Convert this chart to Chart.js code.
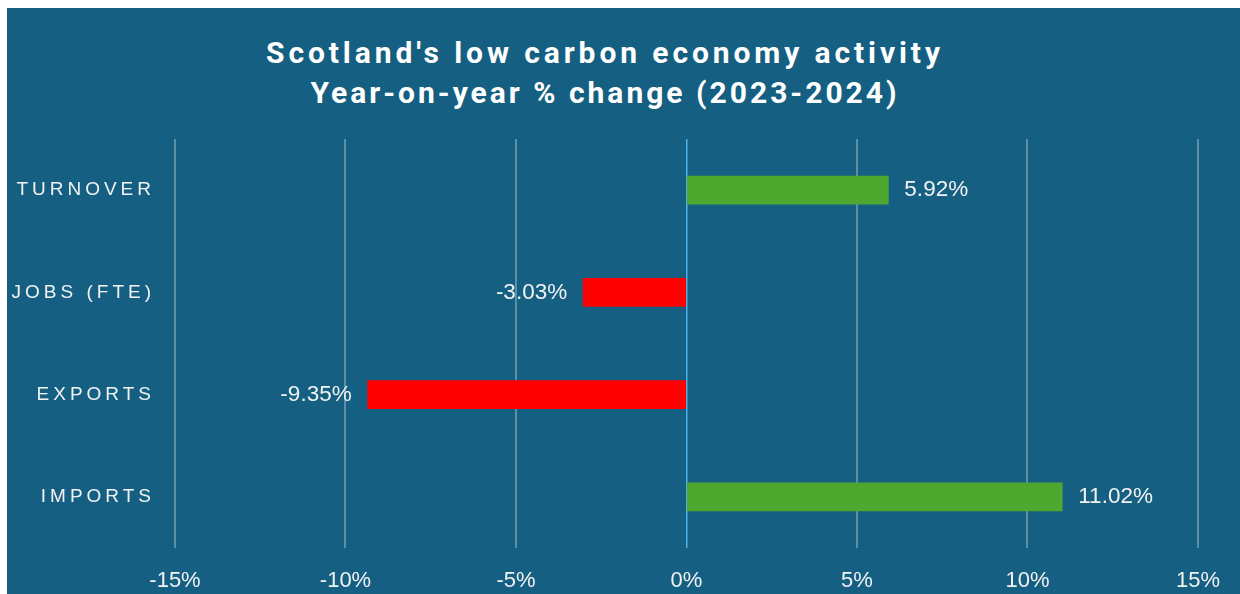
<!DOCTYPE html>
<html>
<head>
<meta charset="utf-8">
<script src="https://cdn.jsdelivr.net/npm/chart.js@4.4.1/dist/chart.umd.min.js"></script>
<style>
  body { margin: 0; background: #ffffff; }
  #panel { position: absolute; left: 7px; top: 8px; width: 1233px; height: 586px; background: #156082; }
  #title {
    position: absolute; left: 2px; top: 33px; width: 1206px;
    text-align: center; color: #ffffff;
    font: bold 30px Roboto, sans-serif; letter-spacing: 3.9px; line-height: 40px;
  }
  #title .sub { letter-spacing: 3px; }
  #chartBox { position: absolute; left: 7px; top: 8px; width: 1233px; height: 586px; }
</style>
</head>
<body>
<div id="panel"></div>
<div id="title">Scotland's low carbon economy activity<br><span class="sub">Year-on-year % change (2023-2024)</span></div>
<div id="chartBox"><canvas id="lowCarbonChart"></canvas></div>
<script>
// Data
const categories = ['TURNOVER', 'JOBS (FTE)', 'EXPORTS', 'IMPORTS'];
const changes = [5.92, -3.03, -9.35, 11.02];
const xTicks = [-15, -10, -5, 0, 5, 10, 15];

const GREEN = '#4EA72E';
const RED = '#FF0000';

// value labels next to each bar, then switch on letter spacing for the category labels
const valueLabels = {
  id: 'valueLabels',
  beforeDraw(chart) {
    chart.ctx.letterSpacing = '0px';
  },
  afterDatasetsDraw(chart) {
    const ctx = chart.ctx;
    const meta = chart.getDatasetMeta(0);
    ctx.save();
    ctx.font = '22.5px "Liberation Sans", Arial, sans-serif';
    ctx.fillStyle = '#F2F2F2';
    ctx.textBaseline = 'middle';
    meta.data.forEach((bar, i) => {
      const v = changes[i];
      const txt = v.toFixed(2) + '%';
      if (v >= 0) {
        ctx.textAlign = 'left';
        ctx.fillText(txt, bar.x + 16, bar.y);
      } else {
        ctx.textAlign = 'right';
        ctx.fillText(txt, bar.x - 16, bar.y);
      }
    });
    ctx.restore();
    ctx.letterSpacing = '4px';
  },
  afterDraw(chart) {
    chart.ctx.letterSpacing = '0px';
  }
};

document.addEventListener('DOMContentLoaded', function () {
  const ctx = document.getElementById('lowCarbonChart').getContext('2d');

  new Chart(ctx, {
    type: 'bar',
    data: {
      labels: categories,
      datasets: [{
        data: changes,
        backgroundColor: changes.map(v => v >= 0 ? GREEN : RED),
        borderWidth: 0,
        barThickness: 28
      }]
    },
    options: {
      indexAxis: 'y',
      responsive: true,
      maintainAspectRatio: false,
      animation: false,
      layout: { padding: { top: 131, right: 42, bottom: 0, left: 0 } },
      plugins: {
        legend: { display: false },
        tooltip: { enabled: false }
      },
      scales: {
        x: {
          min: xTicks[0],
          max: xTicks[xTicks.length - 1],
          afterBuildTicks: (scale) => { scale.ticks = xTicks.map(v => ({ value: v })); },
          grid: {
            drawTicks: false,
            color: (c) => c.tick && c.tick.value === 0 ? '#4DB3E6' : 'rgba(255,255,255,0.3)',
            lineWidth: (c) => c.tick && c.tick.value === 0 ? 1.5 : 2
          },
          border: { display: false },
          ticks: {
            padding: 20,
            color: '#F2F2F2',
            font: { family: '"Liberation Sans", Arial, sans-serif', size: 22 },
            callback: (v) => v + '%'
          },
          afterFit: (scale) => { scale.height = 46; }
        },
        y: {
          grid: { display: false },
          border: { display: false },
          ticks: {
            z: 1,
            padding: 12,
            color: '#F2F2F2',
            font: { family: '"Liberation Sans", Arial, sans-serif', size: 19 }
          },
          afterFit: (scale) => { scale.width = 168; }
        }
      }
    },
    plugins: [valueLabels]
  });
});
</script>
</body>
</html>
